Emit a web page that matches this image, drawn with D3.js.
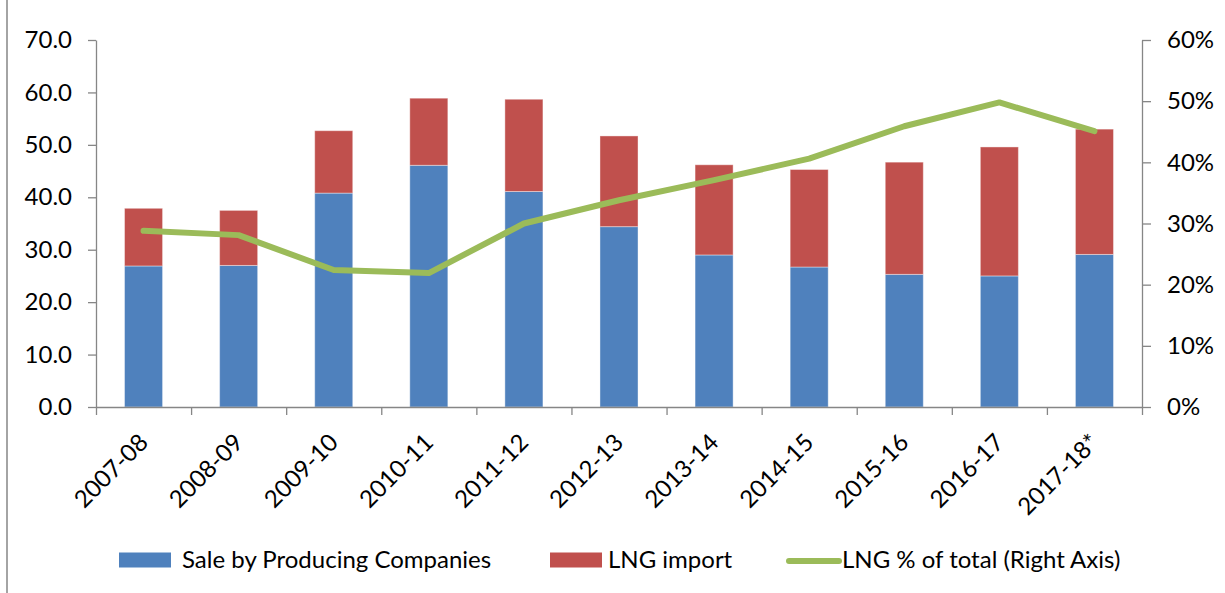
<!DOCTYPE html>
<html>
<head>
<meta charset="utf-8">
<script src="https://cdn.jsdelivr.net/npm/d3@7"></script>
<style>
  body { margin: 0; background: #fff; }
  svg text { font-family: Lato, "Open Sans", sans-serif; fill: #000; }
</style>
</head>
<body>
<div id="chart"></div>
<script>
// values
var years = ["2007-08","2008-09","2009-10","2010-11","2011-12","2012-13","2013-14","2014-15","2015-16","2016-17","2017-18*"];
var saleByProducers = [26.9, 27.0, 40.8, 46.1, 41.1, 34.4, 29.0, 26.7, 25.3, 25.0, 29.1];
var lngImport = [11.0, 10.5, 11.9, 12.8, 17.6, 17.3, 17.2, 18.6, 21.4, 24.6, 23.9];
var lngShare = [0.288, 0.281, 0.224, 0.219, 0.300, 0.338, 0.371, 0.406, 0.459, 0.498, 0.451];
var leftTicks = [0, 10, 20, 30, 40, 50, 60, 70];
var rightTicks = [0, 0.1, 0.2, 0.3, 0.4, 0.5, 0.6];

var W = 1225, H = 593;
var mLeft = 96, mRight = 1142, mTop = 40, mBottom = 407;
var fontSize = "24px";

var svg = d3.select("#chart").append("svg")
    .attr("width", W)
    .attr("height", H);

// chart frame, only its left edge shows
svg.append("line")
    .attr("x1", 7).attr("x2", 7)
    .attr("y1", 0).attr("y2", H)
    .attr("stroke", "#868686")
    .attr("stroke-width", 1.5);

var x = d3.scaleBand()
    .domain(years)
    .range([mLeft, mRight])
    .paddingInner(0.6)
    .paddingOuter(0.3);

var yL = d3.scaleLinear().domain([0, 70]).range([mBottom, mTop]);
var yR = d3.scaleLinear().domain([0, 0.6]).range([mBottom, mTop]);

// stacked bars
var rows = years.map(function(d, i) {
  return { year: d, sale: saleByProducers[i], lng: lngImport[i] };
});
var stack = d3.stack().keys(["sale", "lng"])(rows);
var colors = { sale: "#4F81BD", lng: "#C0504D" };

svg.append("g").selectAll("g")
  .data(stack)
  .join("g")
    .attr("fill", function(s) { return colors[s.key]; })
  .selectAll("rect")
  .data(function(s) { return s; })
  .join("rect")
    .attr("x", function(d) { return x(d.data.year); })
    .attr("width", x.bandwidth())
    .attr("y", function(d) { return yL(d[1]); })
    .attr("height", function(d) { return yL(d[0]) - yL(d[1]); })
    .attr("stroke", "#fff")
    .attr("stroke-opacity", 0.4)
    .attr("stroke-width", 1);

// axes
function styleAxis(g) {
  g.selectAll("path, line").attr("stroke", "#868686").attr("stroke-width", 1.3);
  g.selectAll("text").style("font-size", fontSize).attr("fill", "#000");
}

svg.append("g")
    .attr("transform", "translate(" + mLeft + ",0)")
    .call(d3.axisLeft(yL).tickValues(leftTicks).tickFormat(d3.format(".1f")).tickSize(8).tickSizeOuter(0).tickPadding(16))
    .call(styleAxis);

svg.append("g")
    .attr("transform", "translate(" + mRight + ",0)")
    .call(d3.axisRight(yR).tickValues(rightTicks).tickFormat(d3.format(".0%")).tickSize(9).tickSizeOuter(0).tickPadding(16))
    .call(styleAxis);

// category boundaries for the bottom ticks
var xb = d3.scaleLinear().domain([0, years.length]).range([mLeft, mRight]);
svg.append("g")
    .attr("transform", "translate(0," + mBottom + ")")
    .call(d3.axisBottom(xb).tickValues(d3.range(0, years.length + 1)).tickFormat("").tickSize(8).tickSizeOuter(0))
    .call(styleAxis);

// rotated category labels
svg.append("g").selectAll("text")
  .data(years)
  .join("text")
    .attr("transform", function(d) {
      return "translate(" + (x(d) + x.bandwidth() / 2) + "," + 438 + ") rotate(-45)";
    })
    .attr("text-anchor", "end")
    .attr("dy", "0.35em")
    .style("font-size", fontSize)
    .text(function(d) { return d; });

// LNG share line on right axis
svg.append("path")
    .datum(lngShare)
    .attr("fill", "none")
    .attr("stroke", "#9BBB59")
    .attr("stroke-width", 6)
    .attr("stroke-linejoin", "round")
    .attr("stroke-linecap", "round")
    .attr("d", d3.line()
      .x(function(d, i) { return x(years[i]) + x.bandwidth() / 2; })
      .y(function(d) { return yR(d); }));

// legend
var legendY = 560;
var legend = [
  { label: "Sale by Producing Companies", type: "rect", color: "#4F81BD", x: 119, gap: 11 },
  { label: "LNG import", type: "rect", color: "#C0504D", x: 550, gap: 6 },
  { label: "LNG % of total (Right Axis)", type: "line", color: "#9BBB59", x: 786, gap: 4 }
];
var lg = svg.append("g").selectAll("g").data(legend).join("g")
    .attr("transform", function(d) { return "translate(" + d.x + "," + legendY + ")"; });

lg.filter(function(d) { return d.type == "rect"; })
  .append("rect")
    .attr("x", 0).attr("y", -7.5)
    .attr("width", 52).attr("height", 15)
    .attr("fill", function(d) { return d.color; });

lg.filter(function(d) { return d.type == "line"; })
  .append("line")
    .attr("x1", 3).attr("x2", 53)
    .attr("y1", 1).attr("y2", 1)
    .attr("stroke", function(d) { return d.color; })
    .attr("stroke-width", 6)
    .attr("stroke-linecap", "round");

lg.append("text")
    .attr("x", function(d) { return 52 + d.gap; })
    .attr("y", 0)
    .attr("dy", "0.35em")
    .style("font-size", fontSize)
    .text(function(d) { return d.label; });
</script>
</body>
</html>
